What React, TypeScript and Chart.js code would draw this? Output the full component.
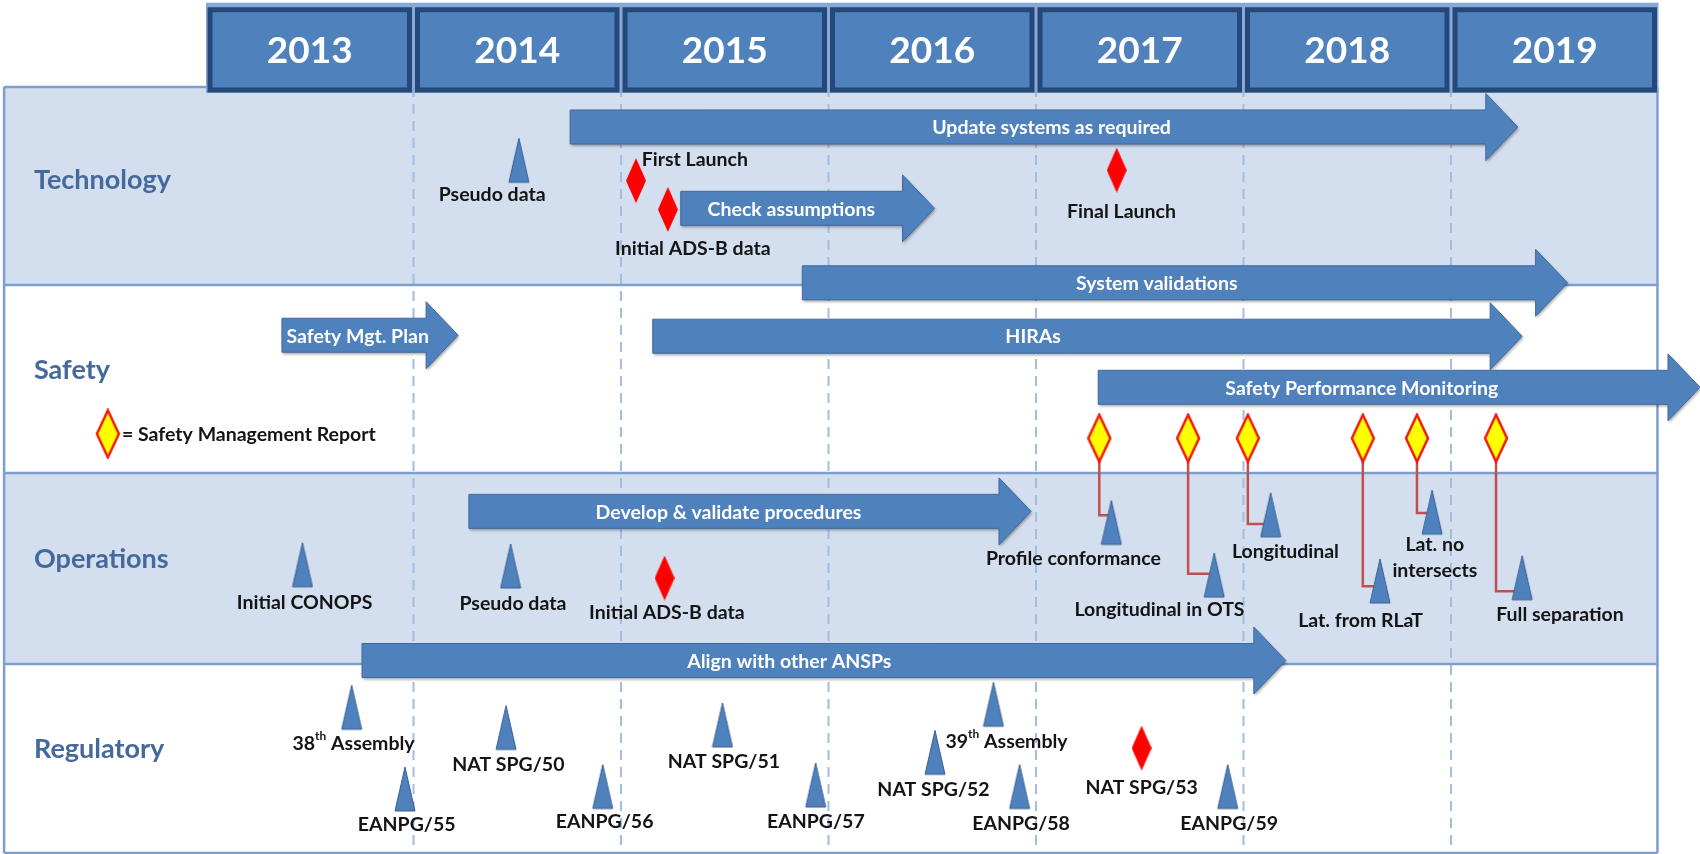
import React, { useEffect, useRef } from "react";
import { Chart, registerables } from "chart.js";

Chart.register(...registerables);

// ---------------- data ----------------
const years = [2013, 2014, 2015, 2016, 2017, 2018, 2019];
const rowNames = ["Technology", "Safety", "Operations", "Regulatory"];
const rowEdges = [-0.01, 1.032, 2.021, 3.026, 4.021];
const rowLabelY = [0.479, 1.479, 2.474, 3.474];

const arrowLabels = [
  "Update systems as required",
  "Check assumptions",
  "System validations",
  "Safety Mgt. Plan",
  "HIRAs",
  "Safety Performance Monitoring",
  "Develop & validate procedures",
  "Align with other ANSPs",
];
const arrowStart = [2014.755, 2015.288, 2015.874, 2013.366, 2015.153, 2017.3, 2014.267, 2013.752];
const arrowEnd = [2019.322, 2016.511, 2019.562, 2014.215, 2019.343, 2020.2, 2016.976, 2018.204];
const arrowY = [0.2, 0.628, 1.02, 1.296, 1.301, 1.57, 2.223, 3.008];
const arrowLabelX = [2017.075, 2015.821, 2017.582, 2013.731, 2016.986, 2018.57, 2015.518, 2015.811];

const milestoneLabels = [
  "Pseudo data",
  "Initial CONOPS",
  "Pseudo data",
  "Profile conformance",
  "Longitudinal in OTS",
  "Longitudinal",
  "Lat. from RLaT",
  "Lat. no\nintersects",
  "Full separation",
  "38th Assembly",
  "EANPG/55",
  "NAT SPG/50",
  "EANPG/56",
  "NAT SPG/51",
  "EANPG/57",
  "NAT SPG/52",
  "39th Assembly",
  "EANPG/58",
  "EANPG/59",
];
const milestoneX = [2014.508, 2013.465, 2014.468, 2017.363, 2017.859, 2018.131, 2018.658, 2018.909, 2019.343, 2013.702, 2013.959, 2014.446, 2014.912, 2015.489, 2015.938, 2016.513, 2016.795, 2016.921, 2017.924];
const milestoneY = [0.491, 2.62, 2.626, 2.397, 2.674, 2.357, 2.705, 2.343, 2.688, 3.37, 3.8, 3.476, 3.787, 3.463, 3.779, 3.607, 3.354, 3.787, 3.787];
const milestoneLabelX = [2014.379, 2013.475, 2014.479, 2017.18, 2017.595, 2018.202, 2018.564, 2018.922, 2019.525, 2013.711, 2013.967, 2014.457, 2014.921, 2015.496, 2015.939, 2016.506, 2016.858, 2016.928, 2017.931];
const milestoneLabelY = [0.559, 2.705, 2.711, 2.474, 2.74, 2.437, 2.797, 2.401, 2.768, 3.447, 3.87, 3.554, 3.858, 3.542, 3.858, 3.686, 3.436, 3.866, 3.866];

const keyLabels = ["First Launch", "Initial ADS-B data", "Final Launch", "Initial ADS-B data", "NAT SPG/53"];
const keyX = [2015.072, 2015.226, 2017.389, 2015.21, 2017.509];
const keyY = [0.482, 0.634, 0.427, 2.574, 3.469];
const keyLabelX = [2015.1, 2015.346, 2017.412, 2015.221, 2017.509];
const keyLabelY = [0.374, 0.842, 0.646, 2.757, 3.679];
const keyLabelAlign = ["left", "center", "center", "center", "center"];

const smrX = [2017.305, 2017.733, 2018.021, 2018.575, 2018.836, 2019.217];
const smrY = [1.838, 1.838, 1.838, 1.838, 1.838, 1.838];
const smrElbowY = [2.243, 2.551, 2.289, 2.617, 2.232, 2.643];
const smrTarget = ["Profile conformance", "Longitudinal in OTS", "Longitudinal", "Lat. from RLaT", "Lat. no\nintersects", "Full separation"];

const legendText = "= Safety Management Report";
const legendX = [2012.527];
const legendY = [1.815];
const legendTextX = [2012.595];

// ---------------- layout / style ----------------
const X_MIN = 2012.0072;
const X_MAX = 2020.2;
const Y_MIN = -0.4684;
const Y_MAX = 4.0263;
const FRAME_LEFT = 2012.027;
const FRAME_RIGHT = 2019.995;
const HEADER_TOP = -0.454;
const HEADER_BOTTOM = 0.021;
const ROW_LABEL_X = 2012.171;

const FONT = "Lato, 'Open Sans', 'DejaVu Sans', sans-serif";
const BLUE = "#4f81bd";
const DARK = "#24487a";
const ROW_FILL = ["#d3deef", "#ffffff", "#d3deef", "#ffffff"];
const ROW_LINE = "#7d9fd0";
const GRID = "#a3bde0";
const LABEL_COLOR = "#141414";
const ROW_LABEL_COLOR = "#46699b";
const LINK = "#c0504d";

const BODY_H = 34;
const HEAD_H = 67;
const HEAD_L = 32;
const LINE_H = 26;
const LABEL_PX = 19.5;

function makeTriangle(): HTMLCanvasElement {
  const w = 22, h = 44;
  const c = document.createElement("canvas");
  c.width = w;
  c.height = (h + 2) * 2;
  const g = c.getContext("2d")!;
  g.beginPath();
  g.moveTo(w / 2, 2);
  g.lineTo(w - 1, h + 2);
  g.lineTo(1, h + 2);
  g.closePath();
  g.fillStyle = BLUE;
  g.fill();
  g.strokeStyle = "#3a6193";
  g.lineWidth = 1;
  g.stroke();
  return c;
}

function makeDiamond(w: number, h: number, fill: string, stroke?: string): HTMLCanvasElement {
  const pad = stroke ? 2 : 0;
  const c = document.createElement("canvas");
  c.width = w + pad * 2;
  c.height = h + pad * 2;
  const g = c.getContext("2d")!;
  g.beginPath();
  g.moveTo(pad + w / 2, pad);
  g.lineTo(pad + w, pad + h / 2);
  g.lineTo(pad + w / 2, pad + h);
  g.lineTo(pad, pad + h / 2);
  g.closePath();
  g.fillStyle = fill;
  g.fill();
  if (stroke) {
    g.strokeStyle = stroke;
    g.lineWidth = 2.5;
    g.stroke();
  }
  return c;
}

function drawArrow(ctx: CanvasRenderingContext2D, x0: number, x1: number, yc: number) {
  const hx = x1 - HEAD_L;
  ctx.beginPath();
  ctx.moveTo(x0, yc - BODY_H / 2);
  ctx.lineTo(hx, yc - BODY_H / 2);
  ctx.lineTo(hx, yc - HEAD_H / 2);
  ctx.lineTo(x1, yc);
  ctx.lineTo(hx, yc + HEAD_H / 2);
  ctx.lineTo(hx, yc + BODY_H / 2);
  ctx.lineTo(x0, yc + BODY_H / 2);
  ctx.closePath();
  ctx.save();
  ctx.shadowColor = "rgba(0,0,0,0.35)";
  ctx.shadowBlur = 3;
  ctx.shadowOffsetX = 1;
  ctx.shadowOffsetY = 2;
  ctx.fillStyle = BLUE;
  ctx.fill();
  ctx.restore();
  ctx.strokeStyle = "#3e6a9f";
  ctx.lineWidth = 1;
  ctx.stroke();
}

function drawLabel(ctx: CanvasRenderingContext2D, text: string, x: number, y: number, align: string) {
  ctx.fillStyle = LABEL_COLOR;
  ctx.textBaseline = "middle";
  const m = text.match(/^(\d+)(th)(\s.*)$/);
  if (m) {
    const main = `bold ${LABEL_PX}px ${FONT}`;
    const sup = `bold 12px ${FONT}`;
    ctx.font = main;
    const w1 = ctx.measureText(m[1]).width;
    const w3 = ctx.measureText(m[3]).width;
    ctx.font = sup;
    const w2 = ctx.measureText(m[2]).width;
    const total = w1 + w2 + w3;
    const sx = align === "left" ? x : x - total / 2;
    ctx.textAlign = "left";
    ctx.font = main;
    ctx.fillText(m[1], sx, y);
    ctx.font = sup;
    ctx.fillText(m[2], sx + w1, y - 8);
    ctx.font = main;
    ctx.fillText(m[3], sx + w1 + w2, y);
    return;
  }
  ctx.font = `bold ${LABEL_PX}px ${FONT}`;
  ctx.textAlign = align as CanvasTextAlign;
  text.split("\n").forEach((line, i) => ctx.fillText(line, x, y + i * LINE_H));
}

export default function App() {
  const ref = useRef<HTMLCanvasElement>(null);

  useEffect(() => {
    document.body.style.margin = "0";
    const canvas = ref.current!;
    const tri = makeTriangle();
    const red = makeDiamond(20, 45, "#ff0000");
    const yellow = makeDiamond(22, 47, "#ffff00", "#f21b0f");

    const roadmap = {
      id: "roadmap",
      beforeDatasetsDraw(chart: any) {
        const { ctx } = chart;
        const xs = chart.scales.x;
        const ys = chart.scales.y;
        const px = (v: number) => xs.getPixelForValue(v);
        const py = (v: number) => ys.getPixelForValue(v);
        ctx.save();
        // rows
        const L = px(FRAME_LEFT), R = px(FRAME_RIGHT);
        rowNames.forEach((_, i) => {
          ctx.fillStyle = ROW_FILL[i];
          ctx.fillRect(L, py(rowEdges[i]), R - L, py(rowEdges[i + 1]) - py(rowEdges[i]));
        });
        // grid
        ctx.strokeStyle = GRID;
        ctx.lineWidth = 2;
        ctx.setLineDash([10, 7]);
        years.slice(1).forEach((yr) => {
          ctx.beginPath();
          ctx.moveTo(px(yr), py(rowEdges[0]));
          ctx.lineTo(px(yr), py(rowEdges[rowEdges.length - 1]));
          ctx.stroke();
        });
        ctx.setLineDash([]);
        // row lines
        ctx.strokeStyle = ROW_LINE;
        ctx.lineWidth = 2.5;
        rowEdges.forEach((e) => {
          ctx.beginPath();
          ctx.moveTo(L, py(e));
          ctx.lineTo(R, py(e));
          ctx.stroke();
        });
        ctx.beginPath();
        ctx.moveTo(L, py(rowEdges[0]));
        ctx.lineTo(L, py(rowEdges[rowEdges.length - 1]));
        ctx.moveTo(R, py(rowEdges[0]));
        ctx.lineTo(R, py(rowEdges[rowEdges.length - 1]));
        ctx.stroke();
        // header
        const hx0 = px(years[0]);
        const hx1 = px(years[years.length - 1] + 1);
        ctx.fillStyle = "#86a9d8";
        ctx.fillRect(hx0, py(HEADER_TOP), hx1 - hx0, py(HEADER_BOTTOM) - py(HEADER_TOP));
        years.forEach((yr) => {
          const a = px(yr) + 4;
          const b = px(yr + 1) - 4;
          const t = py(HEADER_TOP) + 7;
          const bt = py(HEADER_BOTTOM) - 3;
          ctx.fillStyle = BLUE;
          ctx.fillRect(a, t, b - a, bt - t);
          ctx.strokeStyle = DARK;
          ctx.lineWidth = 5;
          ctx.strokeRect(a, t, b - a, bt - t);
        });
        // arrows
        arrowLabels.forEach((_, i) => drawArrow(ctx, px(arrowStart[i]), px(arrowEnd[i]), py(arrowY[i])));
        // SMR connectors
        ctx.strokeStyle = LINK;
        ctx.lineWidth = 2.5;
        smrX.forEach((sx, i) => {
          const j = milestoneLabels.indexOf(smrTarget[i]);
          ctx.beginPath();
          ctx.moveTo(px(sx), py(smrY[i]));
          ctx.lineTo(px(sx), py(smrElbowY[i]));
          ctx.lineTo(px(milestoneX[j]), py(smrElbowY[i]));
          ctx.stroke();
        });
        ctx.restore();
      },
      afterDatasetsDraw(chart: any) {
        const { ctx } = chart;
        const xs = chart.scales.x;
        const ys = chart.scales.y;
        const px = (v: number) => xs.getPixelForValue(v);
        const py = (v: number) => ys.getPixelForValue(v);
        ctx.save();
        // year labels
        ctx.fillStyle = "#ffffff";
        ctx.font = `bold 37px ${FONT}`;
        ctx.textAlign = "center";
        ctx.textBaseline = "middle";
        years.forEach((yr) => {
          ctx.fillText(String(yr), px(yr + 0.5), (py(HEADER_TOP) + py(HEADER_BOTTOM)) / 2 + 3);
        });
        // row labels
        ctx.fillStyle = ROW_LABEL_COLOR;
        ctx.font = `bold 27px ${FONT}`;
        ctx.textAlign = "left";
        rowNames.forEach((n, i) => ctx.fillText(n, px(ROW_LABEL_X), py(rowLabelY[i])));
        // arrow labels
        ctx.fillStyle = "#ffffff";
        ctx.font = `bold 19.5px ${FONT}`;
        ctx.textAlign = "center";
        arrowLabels.forEach((t, i) => ctx.fillText(t, px(arrowLabelX[i]), py(arrowY[i]) + 1));
        // milestone labels
        milestoneLabels.forEach((t, i) => drawLabel(ctx, t, px(milestoneLabelX[i]), py(milestoneLabelY[i]), "center"));
        keyLabels.forEach((t, i) => drawLabel(ctx, t, px(keyLabelX[i]), py(keyLabelY[i]), keyLabelAlign[i]));
        // legend
        ctx.drawImage(yellow, px(legendX[0]) - yellow.width / 2, py(legendY[0]) - yellow.height / 2);
        drawLabel(ctx, legendText, px(legendTextX[0]), py(legendY[0]) + 1, "left");
        ctx.restore();
      },
    };

    const chart = new Chart(canvas, {
      type: "scatter",
      data: {
        datasets: [
          {
            label: "Milestones",
            data: milestoneX.map((x, i) => ({ x, y: milestoneY[i] })),
            pointStyle: tri as any,
            pointRadius: 10,
          },
          {
            label: "Key events",
            data: keyX.map((x, i) => ({ x, y: keyY[i] })),
            pointStyle: red as any,
            pointRadius: 10,
          },
          {
            label: "Safety Management Report",
            data: smrX.map((x, i) => ({ x, y: smrY[i] })),
            pointStyle: yellow as any,
            pointRadius: 10,
          },
        ],
      },
      options: {
        animation: false,
        responsive: false,
        events: [],
        layout: { padding: 0, autoPadding: false },
        plugins: { legend: { display: false }, tooltip: { enabled: false } },
        scales: {
          x: { type: "linear", min: X_MIN, max: X_MAX, display: false },
          y: { type: "linear", min: Y_MIN, max: Y_MAX, reverse: true, display: false },
        },
      },
      plugins: [roadmap],
    });
    return () => chart.destroy();
  }, []);

  return <canvas ref={ref} width={1700} height={854} style={{ display: "block" }} />;
}
